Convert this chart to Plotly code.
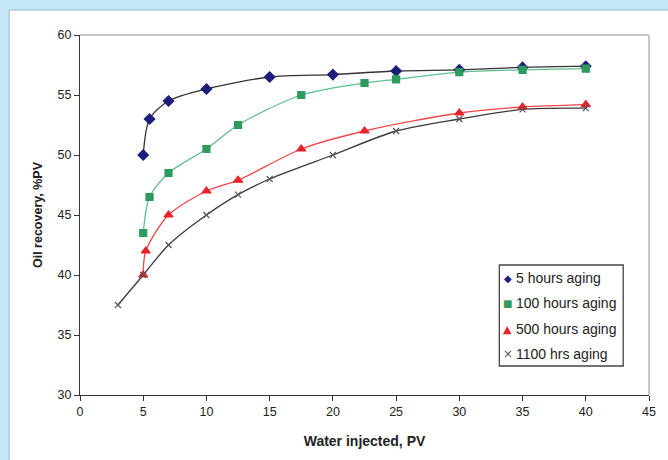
import plotly.graph_objects as go

# ---- data ----
x_5h = [5, 5.5, 7, 10, 15, 20, 25, 30, 35, 40]
y_5h = [50, 53, 54.5, 55.5, 56.5, 56.7, 57.0, 57.1, 57.3, 57.4]

x_100h = [5, 5.5, 7, 10, 12.5, 17.5, 22.5, 25, 30, 35, 40]
y_100h = [43.5, 46.5, 48.5, 50.5, 52.5, 55.0, 56.0, 56.3, 56.9, 57.1, 57.2]

x_500h = [5, 5.2, 7, 10, 12.5, 17.5, 22.5, 30, 35, 40]
y_500h = [40, 42, 45, 47, 47.9, 50.5, 52.0, 53.5, 54.0, 54.2]

x_1100h = [3, 5, 7, 10, 12.5, 15, 20, 25, 30, 35, 40]
y_1100h = [37.5, 40, 42.5, 45, 46.7, 48, 50, 52, 53, 53.8, 53.9]

names = ["5 hours aging", "100 hours aging", "500 hours aging", "1100 hrs aging"]
x_ticks = [0, 5, 10, 15, 20, 25, 30, 35, 40, 45]
y_ticks = [30, 35, 40, 45, 50, 55, 60]

FONT = "Liberation Sans, Arial, sans-serif"

fig = go.Figure()

series = [
    (x_5h, y_5h, names[0], "#333333", "diamond", "#1c1f78", 8, "\u25C6"),
    (x_100h, y_100h, names[1], "#5dbf8e", "square", "#2e9a5e", 7, "\u25A0"),
    (x_500h, y_500h, names[2], "#f0474a", "triangle-up", "#e8232a", 8, "\u25B2"),
    (x_1100h, y_1100h, names[3], "#3a3a3a", "x-thin", "#555555", 6, "\u00D7"),
]

for xs, ys, nm, lc, sym, mc, ms, g in series:
    fig.add_trace(go.Scatter(
        x=xs, y=ys, mode="lines", line=dict(color=lc, width=1.3, shape="spline", smoothing=0.8),
        showlegend=False, hoverinfo="skip"))

for xs, ys, nm, lc, sym, mc, ms, g in series:
    fig.add_trace(go.Scatter(
        x=xs, y=ys, mode="markers", name=nm, showlegend=False,
        marker=dict(symbol=sym, color=mc, size=ms,
                    line=dict(color=mc, width=1.2))))

L, R, T, B = 80, 14, 35, 65
W, H = 668, 460
pw, ph = W - L - R, H - T - B

def px(xpix):
    return (xpix - L) / pw

def py(ypix):
    return (H - B - ypix) / ph

shapes = [
    # white panel
    dict(type="rect", xref="paper", yref="paper", layer="below",
         x0=px(8.5), x1=px(680), y0=py(480), y1=py(10),
         fillcolor="white", line=dict(color="#9bb8c8", width=1)),
    # light gray frame top & right
    dict(type="line", xref="paper", yref="paper", x0=0, x1=1, y0=1, y1=1,
         line=dict(color="#c8c8c8", width=2)),
    dict(type="line", xref="paper", yref="paper", x0=1, x1=1, y0=0, y1=1,
         line=dict(color="#c8c8c8", width=2)),
    # legend box
    dict(type="rect", xref="paper", yref="paper",
         x0=px(503), x1=px(628), y0=py(366), y1=py(265),
         fillcolor="white", line=dict(color="#444", width=1.3)),
]

annotations = []
rows = [278, 303, 329, 354]
sym_sizes = [10, 10, 11, 12]
for (xs, ys, nm, lc, sym, mc, ms, g), ry, ss in zip(series, rows, sym_sizes):
    annotations.append(dict(xref="paper", yref="paper", x=px(511.5), y=py(ry),
                            text=g, showarrow=False, xanchor="center", yanchor="middle",
                            font=dict(family="DejaVu Sans", size=ss, color=mc)))
    annotations.append(dict(xref="paper", yref="paper", x=px(518), y=py(ry),
                            text=nm, showarrow=False, xanchor="left", yanchor="middle",
                            font=dict(family=FONT, size=14, color="#222")))

fig.update_layout(
    width=W, height=H,
    margin=dict(l=L, r=R, t=T, b=B),
    paper_bgcolor="#c6e7f7",
    plot_bgcolor="white",
    font=dict(family=FONT, size=12.5, color="#222"),
    shapes=shapes,
    annotations=annotations,
    showlegend=False,
    xaxis=dict(range=[0, 45], tickvals=x_ticks, ticks="outside", ticklen=5,
               tickcolor="#333", showline=True, linecolor="#333", linewidth=1.3,
               showgrid=False, zeroline=False,
               title=dict(text="<b>Water injected, PV</b>", font=dict(size=14), standoff=18)),
    yaxis=dict(range=[30, 60], tickvals=y_ticks, ticks="outside", ticklen=5,
               tickcolor="#333", showline=True, linecolor="#333", linewidth=1.3,
               showgrid=False, zeroline=False,
               title=dict(text="<b>Oil recovery, %PV</b>", font=dict(size=12.5), standoff=12)),
)

fig.write_html("out.html")
